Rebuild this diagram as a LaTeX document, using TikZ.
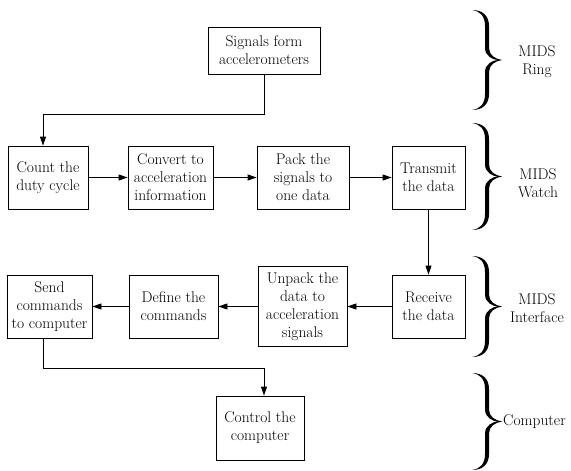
\documentclass[tikz,border=0pt]{standalone}
\usetikzlibrary{arrows.meta}
% filled curly brace, #1 = top y, #2 = height
\newcommand{\curly}[2]{%
  \fill[shift={(472,#1)}] (0,0) .. controls (10,0) and (17,-5) .. (17,-16)
    -- (17,{-#2/2+12}) .. controls (17,{-#2/2+5}) and (23,{-#2/2+1}) .. (30,{-#2/2})
    .. controls (23,{-#2/2-1}) and (17,{-#2/2-5}) .. (17,{-#2/2-12})
    -- (17,{-#2+16}) .. controls (17,{-#2+5}) and (10,{-#2}) .. (0,{-#2})
    .. controls (8,{-#2+1}) and (13,{-#2+6}) .. (13,{-#2+16})
    -- (13,{-#2/2-12}) .. controls (13,{-#2/2-4}) and (21,{-#2/2}) .. (26,{-#2/2})
    .. controls (21,{-#2/2}) and (13,{-#2/2+4}) .. (13,{-#2/2+12})
    -- (13,-16) .. controls (13,-6) and (8,-1) .. (0,0) -- cycle;}

\begin{document}
\begin{tikzpicture}[x=1pt,y=1pt,
  font=\fontsize{15.5}{18}\selectfont,
  block/.style={draw,line width=0.8pt,align=center,inner sep=1.5pt,minimum height=63pt},
  flow/.style={-{Triangle[length=9pt,width=6pt]},line width=0.8pt},
  side/.style={align=center}]
  \useasboundingbox (0,0) rectangle (571,-471);
  % blocks
  \node[block,minimum width=112pt,minimum height=47pt] (sig) at (264,-50.5) {Signals form\\accelerometers};
  \node[block,minimum width=80pt] (count) at (48,-177.5) {Count the\\duty cycle};
  \node[block,minimum width=85pt] (conv) at (170.5,-177.5) {Convert to\\acceleration\\information};
  \node[block,minimum width=92pt] (pack) at (303,-177.5) {Pack the\\signals to\\one data};
  \node[block,minimum width=73pt] (trans) at (428.5,-177.5) {Transmit\\the data};
  \node[block,minimum width=73pt] (recv) at (428.5,-306.5) {Receive\\the data};
  \node[block,minimum width=89pt,minimum height=80pt] (unpack) at (302.5,-306.5) {Unpack the\\data to\\acceleration\\signals};
  \node[block,minimum width=89pt] (define) at (173.5,-306.5) {Define the\\commands};
  \node[block,minimum width=85pt] (send) at (49.5,-306.5) {Send\\commands\\to computer};
  \node[block,minimum width=88pt,minimum height=64pt] (ctrl) at (260,-428) {Control the\\computer};
  % connectors
  \draw[flow] (sig.south) -- ++(0,-40) -| ([xshift=-5pt]count.north);
  \draw[flow] (count) -- (conv);
  \draw[flow] (conv) -- (pack);
  \draw[flow] (pack) -- (trans);
  \draw[flow] (trans) -- (recv);
  \draw[flow] (recv) -- (unpack);
  \draw[flow] (unpack) -- (define);
  \draw[flow] (define) -- (send);
  \draw[flow] ([xshift=-6pt]send.south) -- ++(0,-30) -| ([xshift=4pt]ctrl.north);
  % braces
  \curly{-10}{100}
  \curly{-123}{107}
  \curly{-256}{101}
  \curly{-373}{97}
  \node[side] (ring) at (537,-62) {MIDS\\Ring};
  \node[side] (watch) at (538,-183) {MIDS\\Watch};
  \node[side] (iface) at (537,-308) {MIDS\\Interface};
  \node[side,anchor=west,inner sep=0pt] (comp) at (503,-422) {Computer};
\end{tikzpicture}
\end{document}
